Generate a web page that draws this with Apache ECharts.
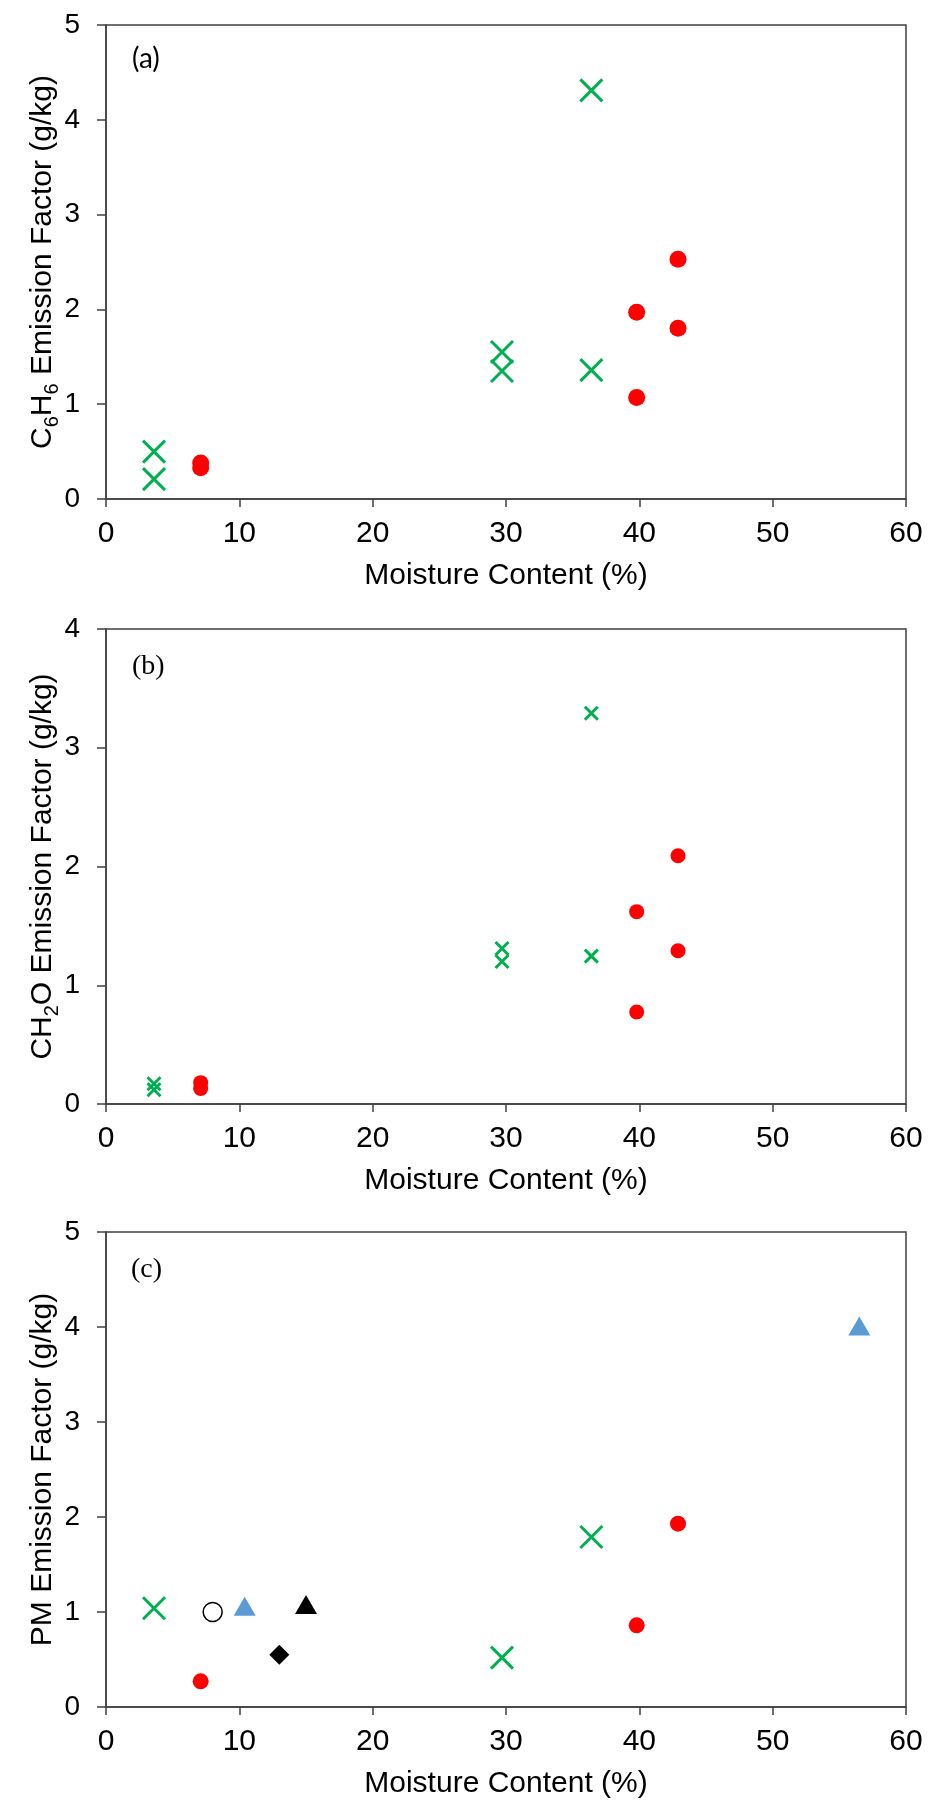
<!DOCTYPE html>
<html>
<head>
<meta charset="utf-8">
<title>Emission factors vs moisture content</title>
<script src="https://cdn.jsdelivr.net/npm/echarts@6/dist/echarts.min.js"></script>
<style>
  html, body { margin: 0; padding: 0; background: #fff; }
  #chart { width: 935px; height: 1809px; }
</style>
</head>
<body>
<div id="chart"></div>
<script>
// x ticks (moisture content, %)
var xTicks = [0, 10, 20, 30, 40, 50, 60];

// (a) C6H6
var a_greenX = [3.6, 3.6, 29.7, 29.7, 36.4, 36.4];
var a_greenY = [0.50, 0.21, 1.55, 1.35, 4.31, 1.36];
var a_redX = [7.1, 7.1, 39.8, 39.8, 42.9, 42.9];
var a_redY = [0.38, 0.33, 1.97, 1.07, 2.53, 1.80];

// (b) CH2O
var b_greenX = [3.6, 3.6, 29.7, 29.7, 36.4, 36.4];
var b_greenY = [0.17, 0.12, 1.31, 1.20, 3.29, 1.245];
var b_redX = [7.1, 7.1, 39.8, 39.8, 42.9, 42.9];
var b_redY = [0.18, 0.13, 1.62, 0.775, 2.09, 1.29];

// (c) PM
var c_greenX = [3.6, 29.7, 36.4];
var c_greenY = [1.04, 0.52, 1.79];
var c_redX = [7.1, 39.8, 42.9];
var c_redY = [0.27, 0.86, 1.93];
var c_openX = [8.0];
var c_openY = [1.0];
var c_blueTriX = [10.4, 56.5];
var c_blueTriY = [1.06, 4.01];
var c_blackTriX = [15.0];
var c_blackTriY = [1.08];
var c_diamondX = [13.0];
var c_diamondY = [0.55];

var green = '#00B050', red = '#FF0000', blue = '#5B9BD5';
var axisColor = '#404040';
var crossPath = 'path://M0,0L10,10M10,0L0,10';

function pairs(xs, ys) {
  return xs.map(function (x, i) { return [x, ys[i]]; });
}

var grids = [
  { left: 106, top: 25, width: 800, height: 474 },
  { left: 106, top: 629, width: 800, height: 475 },
  { left: 106, top: 1232, width: 800, height: 475 }
];

var yMax = [5, 4, 5];
var yNames = [
  '{n|C}{s|6}{n|H}{s|6}{n| Emission Factor (g/kg)}',
  '{n|CH}{s|2}{n|O Emission Factor (g/kg)}',
  '{n|PM Emission Factor (g/kg)}'
];

var chart = echarts.init(document.getElementById('chart'), null, { renderer: 'canvas' });

var option = {
  backgroundColor: '#fff',
  animation: false,
  textStyle: { fontFamily: 'Liberation Sans, Arial, sans-serif' },
  title: [
    { text: '(a)', left: 127, top: 40, textStyle: { fontFamily: 'Lato, sans-serif', fontSize: 28, fontWeight: 'normal', color: '#000' } },
    { text: '(b)', left: 127, top: 648, textStyle: { fontFamily: 'Liberation Serif, serif', fontSize: 28, fontWeight: 'normal', color: '#000' } },
    { text: '(c)', left: 126, top: 1251, textStyle: { fontFamily: 'Liberation Serif, serif', fontSize: 28, fontWeight: 'normal', color: '#000' } }
  ],
  grid: grids.map(function (g) {
    return Object.assign({ show: true, borderColor: axisColor, borderWidth: 1.5, backgroundColor: 'transparent' }, g);
  }),
  xAxis: grids.map(function (g, i) {
    return {
      gridIndex: i, type: 'value', min: xTicks[0], max: xTicks[xTicks.length - 1], interval: 10,
      name: 'Moisture Content (%)', nameLocation: 'middle', nameGap: 62,
      nameTextStyle: { fontSize: 30, color: '#000' },
      axisLine: { show: true, onZero: false, lineStyle: { color: axisColor, width: 1.5 } },
      axisTick: { show: true, length: 8, lineStyle: { color: axisColor, width: 1.5 } },
      axisLabel: { fontSize: 30, color: '#000', margin: 20 },
      splitLine: { show: false }
    };
  }),
  yAxis: grids.map(function (g, i) {
    return {
      gridIndex: i, type: 'value', min: 0, max: yMax[i], interval: 1,
      name: yNames[i], nameLocation: 'middle', nameGap: 44, nameRotate: 90,
      nameMoveOverlap: false,
      nameTextStyle: {
        rich: {
          n: { fontSize: 30, color: '#000', verticalAlign: 'bottom', padding: [0, 0, 4, 0] },
          s: { fontSize: 20, color: '#000', verticalAlign: 'bottom' }
        }
      },
      axisLine: { show: true, onZero: false, lineStyle: { color: axisColor, width: 1.5 } },
      axisTick: { show: true, length: 9, lineStyle: { color: axisColor, width: 1.5 } },
      axisLabel: { fontSize: 28, color: '#000', margin: 26 },
      splitLine: { show: false }
    };
  }),
  series: [
    // (a)
    { type: 'scatter', xAxisIndex: 0, yAxisIndex: 0, data: pairs(a_greenX, a_greenY), symbol: crossPath, symbolSize: 22,
      itemStyle: { color: green, borderColor: green, borderWidth: 3, opacity: 1 } },
    { type: 'scatter', xAxisIndex: 0, yAxisIndex: 0, data: pairs(a_redX, a_redY), symbol: 'circle', symbolSize: 17,
      itemStyle: { color: red, opacity: 1 } },
    // (b)
    { type: 'scatter', xAxisIndex: 1, yAxisIndex: 1, data: pairs(b_greenX, b_greenY), symbol: crossPath, symbolSize: 13,
      itemStyle: { color: green, borderColor: green, borderWidth: 3, opacity: 1 } },
    { type: 'scatter', xAxisIndex: 1, yAxisIndex: 1, data: pairs(b_redX, b_redY), symbol: 'circle', symbolSize: 15,
      itemStyle: { color: red, opacity: 1 } },
    // (c)
    { type: 'scatter', xAxisIndex: 2, yAxisIndex: 2, data: pairs(c_greenX, c_greenY), symbol: crossPath, symbolSize: 22,
      itemStyle: { color: green, borderColor: green, borderWidth: 3, opacity: 1 } },
    { type: 'scatter', xAxisIndex: 2, yAxisIndex: 2, data: pairs(c_redX, c_redY), symbol: 'circle', symbolSize: 16,
      itemStyle: { color: red, opacity: 1 } },
    { type: 'scatter', xAxisIndex: 2, yAxisIndex: 2, data: pairs(c_openX, c_openY), symbol: 'circle', symbolSize: 19,
      itemStyle: { color: '#fff', borderColor: '#000', borderWidth: 1.5, opacity: 1 } },
    { type: 'scatter', xAxisIndex: 2, yAxisIndex: 2, data: pairs(c_blueTriX, c_blueTriY), symbol: 'triangle', symbolSize: [22, 19],
      itemStyle: { color: blue, opacity: 1 } },
    { type: 'scatter', xAxisIndex: 2, yAxisIndex: 2, data: pairs(c_blackTriX, c_blackTriY), symbol: 'triangle', symbolSize: [22, 19],
      itemStyle: { color: '#000', opacity: 1 } },
    { type: 'scatter', xAxisIndex: 2, yAxisIndex: 2, data: pairs(c_diamondX, c_diamondY), symbol: 'diamond', symbolSize: [20, 20],
      itemStyle: { color: '#000', opacity: 1 } }
  ]
};

chart.setOption(option);
</script>
</body>
</html>
